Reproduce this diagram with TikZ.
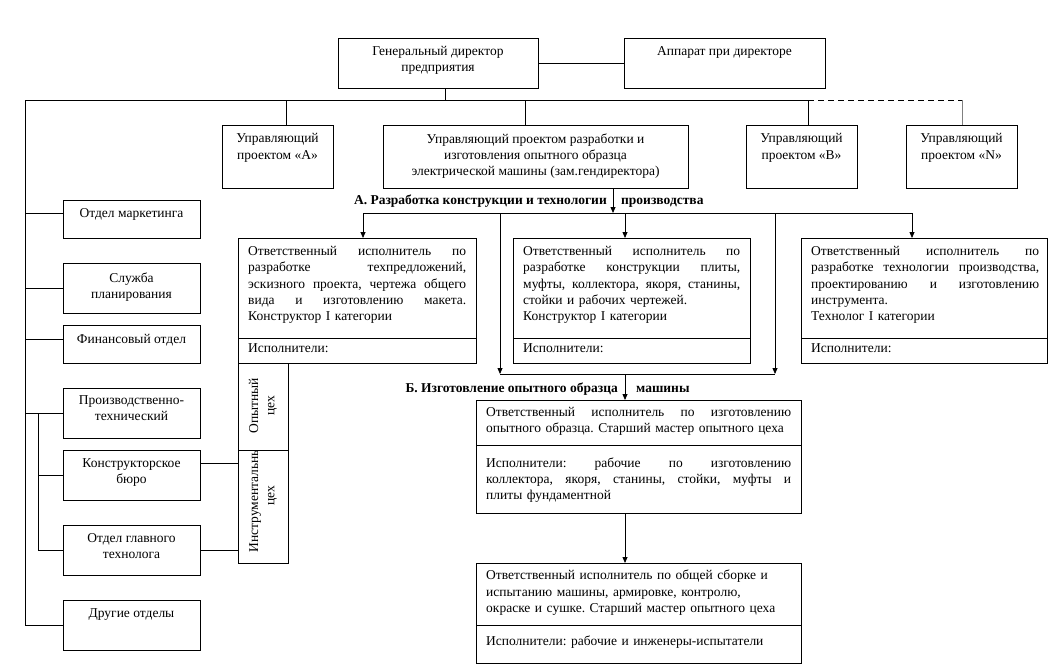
\documentclass[tikz,border=0pt]{standalone}
\usepackage{fontspec}
\setmainfont{Liberation Serif}
\usetikzlibrary{arrows.meta}
\newcommand\fs{\fontsize{13.5}{16.3}\selectfont\frenchspacing}
\newcommand\JL[1]{{\spaceskip=0pt \xspaceskip=0pt \makebox[\hsize][s]{#1}}}
\begin{document}
\begin{tikzpicture}[x=1pt,y=-1pt,
  ln/.style={line width=0.8pt},
  box/.style={ln, draw, inner sep=0pt, anchor=north west},
  ctext/.style={inner sep=0pt, anchor=north, align=center, font=\fs},
  ptext/.style={inner sep=0pt, anchor=north west, align=left, font=\fs},
  htext/.style={inner sep=0pt, font=\fs\bfseries},
  rot/.style={inner sep=0pt, rotate=90, align=center, font=\fs},
  arr/.style={ln, -{Triangle[length=6pt,width=5pt]}}]
\useasboundingbox (0,0) rectangle (1052,664);

% top row
\node[box, minimum width=200pt, minimum height=50pt] (gd) at (338,38) {};
\node[ctext] (gdt) at (438,46) {Генеральный директор\\предприятия};
\node[box, minimum width=201pt, minimum height=50pt] (app) at (624,38) {};
\node[ctext] (appt) at (724.5,46) {Аппарат при директоре};

\node[box, minimum width=111pt, minimum height=63pt] (pa) at (222,125) {};
\node[ctext] (pat) at (277.5,133.5) {Управляющий\\проектом «А»};
\node[box, minimum width=305pt, minimum height=63pt] (pm) at (383,125) {};
\node[ctext] (pmt) at (535.5,133.5) {Управляющий проектом разработки и\\изготовления опытного образца\\электрической машины (зам.гендиректора)};
\node[box, minimum width=111pt, minimum height=63pt] (pb) at (746,125) {};
\node[ctext] (pbt) at (801.5,133.5) {Управляющий\\проектом «В»};
\node[box, minimum width=111pt, minimum height=63pt] (pn) at (906,125) {};
\node[ctext] (pnt) at (961.5,133.5) {Управляющий\\проектом «N»};

% left column
\node[box, minimum width=137pt, minimum height=38pt] (mk) at (63,200) {};
\node[ctext] (mkt) at (131.5,208) {Отдел маркетинга};
\node[box, minimum width=137pt, minimum height=50pt] (sp) at (63,263) {};
\node[ctext] (spt) at (131.5,272.5) {Служба\\планирования};
\node[box, minimum width=137pt, minimum height=38pt] (fo) at (63,325) {};
\node[ctext] (fot) at (131.5,334) {Финансовый отдел};
\node[box, minimum width=137pt, minimum height=50pt] (pt) at (63,388) {};
\node[ctext] (ptt) at (131.5,395.5) {Производственно-\\технический};
\node[box, minimum width=137pt, minimum height=50pt] (kb) at (63,450) {};
\node[ctext] (kbt) at (131.5,458.5) {Конструкторское\\бюро};
\node[box, minimum width=137pt, minimum height=50pt] (ogt) at (63,525) {};
\node[ctext] (ogtt) at (131.5,533.5) {Отдел главного\\технолога};
\node[box, minimum width=137pt, minimum height=50pt] (dr) at (63,600) {};
\node[ctext] (drt) at (131.5,608) {Другие отделы};

% section A boxes
\node[box, minimum width=238pt, minimum height=125pt] (r1) at (238,238) {};
\draw[ln] (r1.north west) ++(0,100) -- ++(238,0);
\node[ptext, text width=218pt] (r1t) at (248,246) {\JL{Ответственный исполнитель по}\\\JL{разработке техпредложений,}\\\JL{эскизного проекта, чертежа общего}\\\JL{вида и изготовлению макета.}\\Конструктор I категории};
\node[ptext] (r1e) at (248,343) {Исполнители:};

\node[box, minimum width=237pt, minimum height=125pt] (r2) at (513,238) {};
\draw[ln] (r2.north west) ++(0,100) -- ++(237,0);
\node[ptext, text width=217pt] (r2t) at (523,246) {\JL{Ответственный исполнитель по}\\\JL{разработке конструкции плиты,}\\\JL{муфты, коллектора, якоря, станины,}\\стойки и рабочих чертежей.\\Конструктор I категории};
\node[ptext] (r2e) at (523,343) {Исполнители:};

\node[box, minimum width=246pt, minimum height=125pt] (r3) at (801,238) {};
\draw[ln] (r3.north west) ++(0,100) -- ++(246,0);
\node[ptext, text width=228pt] (r3t) at (811,246) {\JL{Ответственный исполнитель по}\\\JL{разработке технологии производства,}\\\JL{проектированию и изготовлению}\\инструмента.\\Технолог I категории};
\node[ptext] (r3e) at (811,343) {Исполнители:};

% shops
\node[box, minimum width=50pt, minimum height=200pt] (shop) at (238,363) {};
\draw[ln] (shop.north west) ++(0,87) -- ++(50,0);
\node[rot] (shop1) at (263,406) {Опытный\\цех};
\begin{scope}
\clip (238,450) rectangle (288,563);
\node[rot] (shop2) at (263,496) {Инструментальный\\цех};
\end{scope}

% section B boxes
\node[box, minimum width=325pt, minimum height=113pt] (b1) at (476,400) {};
\draw[ln] (b1.north west) ++(0,45) -- ++(325,0);
\node[ptext, text width=305pt] (b1t) at (486,407) {\JL{Ответственный исполнитель по изготовлению}\\опытного образца. Старший мастер опытного цеха};
\node[ptext, text width=305pt] (b1e) at (486,457.5) {\JL{Исполнители: рабочие по изготовлению}\\\JL{коллектора, якоря, станины, стойки, муфты и}\\плиты фундаментной};

\node[box, minimum width=325pt, minimum height=100pt] (b2) at (476,563) {};
\draw[ln] (b2.north west) ++(0,62) -- ++(325,0);
\node[ptext, text width=305pt] (b2t) at (486,570) {Ответственный исполнитель по общей сборке и\\испытанию машины, армировке, контролю,\\окраске и сушке. Старший мастер опытного цеха};
\node[ptext, text width=305pt] (b2e) at (486,635.5) {Исполнители: рабочие и инженеры-испытатели};

% headers
\node[htext, anchor=base east] (ha1) at (607,204) {А. Разработка конструкции и технологии};
\node[htext, anchor=base west] (ha2) at (621,204) {производства};
\node[htext, anchor=base east] (hb1) at (618,392) {Б. Изготовление опытного образца};
\node[htext, anchor=base west] (hb2) at (636,392) {машины};

% top connectors
\draw[ln] (gd.east) -- (app.west);
\coordinate (gdx) at (445,100);
\coordinate (h0) at (25,100);
\coordinate (ha) at (286,100);
\coordinate (hm) at (525,100);
\coordinate (hb) at (808,100);
\coordinate (hn) at (962,100);
\draw[ln] (gd.south -| gdx) -- (gdx);
\draw[ln] (h0) -- (hb);
\draw[ln, dashed, dash pattern=on 6pt off 4pt] (hb) -- (hn);
\draw[ln, gray] (hn) -- (pn.north -| hn);
\draw[ln] (ha) -- (pa.north -| ha);
\draw[ln] (hm) -- (pm.north -| hm);
\draw[ln] (hb) -- (pb.north -| hb);

% left connectors
\coordinate (l1) at (25,213);
\coordinate (l2) at (25,288);
\coordinate (l3) at (25,339);
\coordinate (l4) at (25,413);
\coordinate (l5) at (25,625);
\draw[ln] (h0) -- (l5) -- (dr.west |- l5);
\draw[ln] (l1) -- (mk.west |- l1);
\draw[ln] (l2) -- (sp.west |- l2);
\draw[ln] (l3) -- (fo.west |- l3);
\draw[ln] (l4) -- (pt.west |- l4);
\coordinate (i1) at (38,413);
\coordinate (i2) at (38,475);
\coordinate (i3) at (38,550);
\draw[ln] (i1) -- (i3);
\draw[ln] (i2) -- (kb.west |- i2);
\draw[ln] (i3) -- (ogt.west |- i3);
\coordinate (s1) at (200,463);
\coordinate (s2) at (200,550);
\draw[ln] (kb.east |- s1) -- (shop.west |- s1);
\draw[ln] (ogt.east |- s2) -- (shop.west |- s2);

% section A arrows
\coordinate (a0) at (613,213);
\coordinate (aL) at (363,213);
\coordinate (a2) at (625,213);
\coordinate (aR) at (912,213);
\draw[arr] (pm.south -| a0) -- (a0);
\draw[ln] (aL) -- (aR);
\draw[arr] (aL) -- (r1.north -| aL);
\draw[arr] (a2) -- (r2.north -| a2);
\draw[arr] (aR) -- (r3.north -| aR);
\coordinate (v1) at (500,213);
\coordinate (v2) at (775,213);
\coordinate (w1) at (500,374);
\coordinate (w2) at (775,374);
\coordinate (w0) at (625,374);
\draw[arr] (v1) -- (w1);
\draw[arr] (v2) -- (w2);
\draw[ln] (w1) -- (w2);
\draw[arr] (w0) -- (b1.north -| w0);
\draw[arr] (b1.south -| w0) -- (b2.north -| w0);
\end{tikzpicture}
\end{document}
